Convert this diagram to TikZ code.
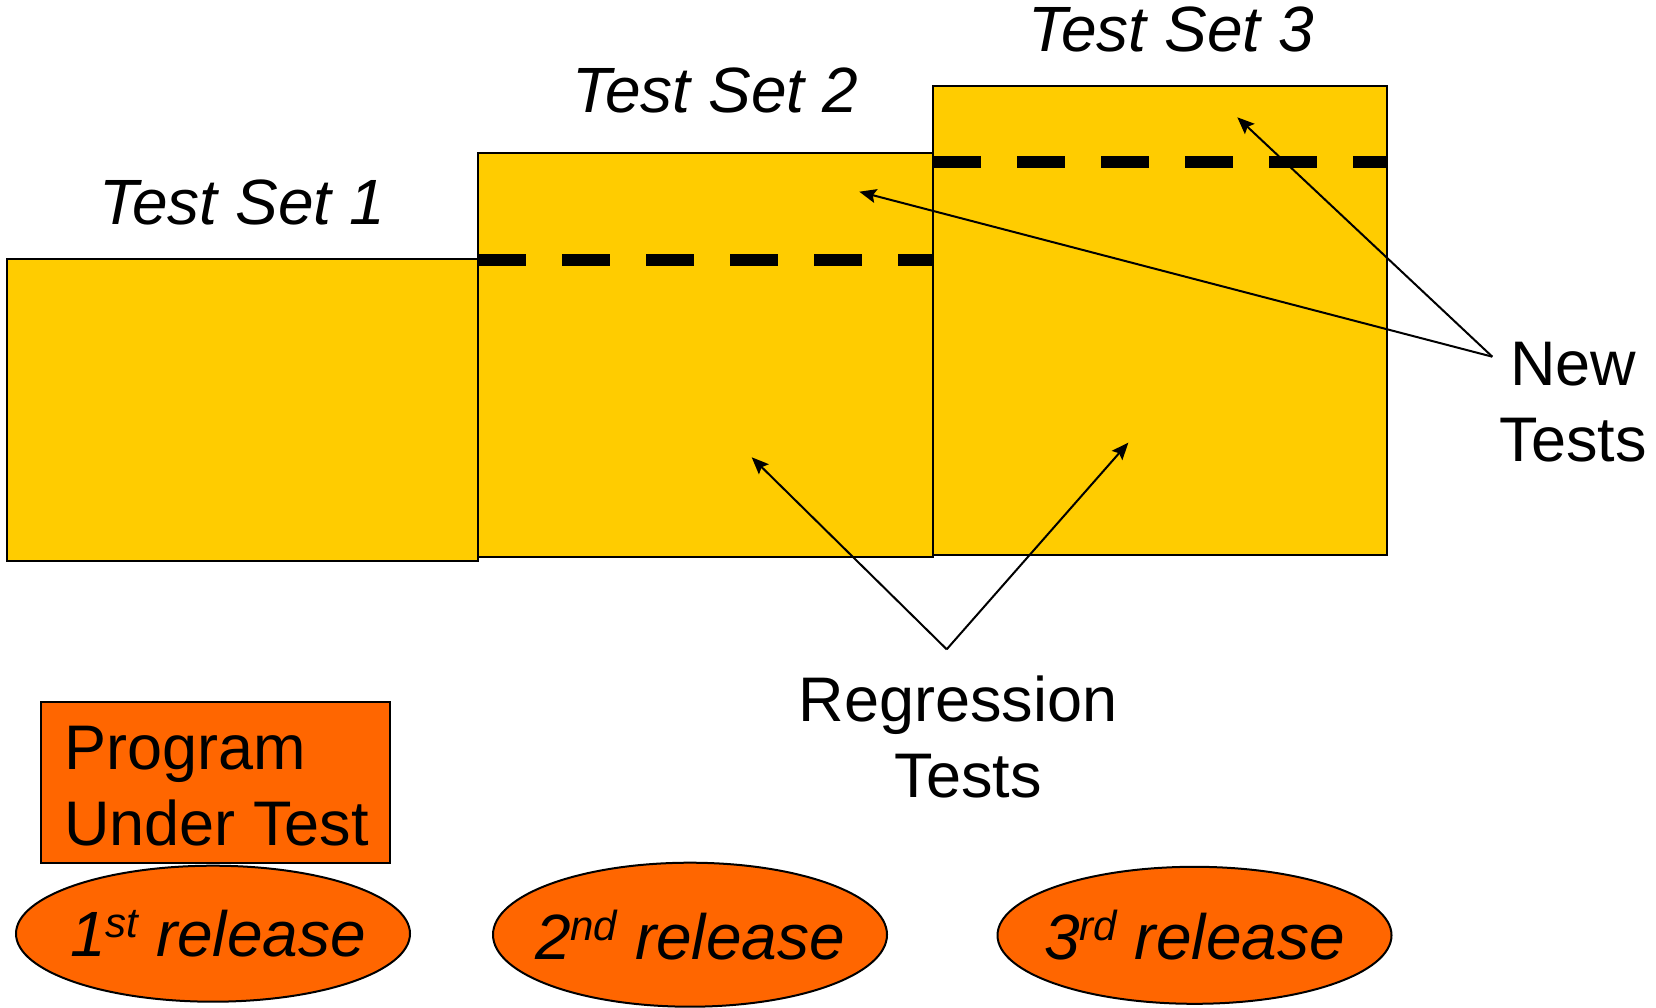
\documentclass[tikz,border=0pt]{standalone}
\usepackage{fontspec}
\setmainfont{Liberation Sans}
\usetikzlibrary{arrows.meta,shapes.geometric}

\definecolor{setyellow}{HTML}{FFCC00}
\definecolor{relorange}{HTML}{FF6600}

% superscript for ordinal suffixes
\newcommand{\ordsup}[1]{\raisebox{19pt}{\fontsize{42}{42}\selectfont #1}}

\tikzset{
  bigtext/.style={font=\fontsize{63}{76}\selectfont, inner sep=0pt, outer sep=0pt},
  settitle/.style={bigtext, font=\fontsize{64}{76}\selectfont\itshape, anchor=base},
  setbox/.style={draw=black, line width=2pt, fill=setyellow, inner sep=0pt,
    outer sep=0pt, anchor=north west},
  newpart/.style={line width=12pt, dash pattern=on 48pt off 36pt},
  pointer/.style={line width=2pt, -{Stealth[length=17pt,width=14pt,inset=3pt]}},
  release/.style={ellipse, draw=black, line width=2pt, fill=relorange,
    inner sep=0pt, minimum width=394pt,
    font=\fontsize{64}{76}\selectfont\itshape},
}

\begin{document}
\begin{tikzpicture}[x=1pt,y=-1pt]
\useasboundingbox (0,0) rectangle (1656,1008);

% test sets
\node[setbox, minimum width=470.6pt, minimum height=302pt] (set1) at (7.4,258.7) {};
\node[setbox, minimum width=455pt, minimum height=403.5pt] (set2) at (478,153.2) {};
\node[setbox, minimum width=454pt, minimum height=469.5pt] (set3) at (933.3,85.7) {};

% boundary between regression part and new part
\coordinate (cut2) at (478,260.5);
\coordinate (cut3) at (933.3,161.7);
\draw[newpart] (cut2) -- (cut2 -| set2.east);
\draw[newpart] (cut3) -- (cut3 -| set3.east);

% titles
\node[settitle] (t1) at (242,225) {Test Set 1};
\node[settitle] (t2) at (715,113) {Test Set 2};
\node[settitle] (t3) at (1171,52) {Test Set 3};

% callouts (base anchor sits on the last line)
\node[bigtext, align=center, anchor=base] (newtests) at (1573,461) {New\\Tests};
\node[bigtext, align=center, anchor=base] (regtests) at (958,797.7) {Regression\\\hspace*{20pt}Tests};

\coordinate (newfoot) at (1492.3,356.7);
\coordinate (newtip2) at (859.3,191.7);
\coordinate (newtip3) at (1237.3,117.3);
\coordinate (regfoot) at (946.7,649.3);
\coordinate (regtip2) at (751.7,457.3);
\coordinate (regtip3) at (1128.3,442.7);

\draw[pointer] (newfoot) -- (newtip2);
\draw[pointer] (newfoot) -- (newtip3);
\draw[pointer] (regfoot) -- (regtip2);
\draw[pointer] (regfoot) -- (regtip3);

% program under test
\node[draw=black, line width=2pt, fill=relorange, inner sep=0pt, outer sep=0pt,
  anchor=north west, minimum width=349pt, minimum height=161.6pt] (put) at (41,701.7) {};
\node[bigtext, align=left, anchor=base west] (putlabel) at (64,845) {Program\\Under Test};

% releases
\node[release, minimum height=136pt] (rel1) at (213,933.7)
  {\makebox[0pt][c]{\hspace*{10pt}1\ordsup{st} release}};
\node[release, minimum height=144pt] (rel2) at (690,934.7)
  {\makebox[0pt][c]{2\ordsup{nd} release}};
\node[release, minimum height=137pt] (rel3) at (1194.5,935.3)
  {\makebox[0pt][c]{3\ordsup{rd} release}};
\end{tikzpicture}
\end{document}
